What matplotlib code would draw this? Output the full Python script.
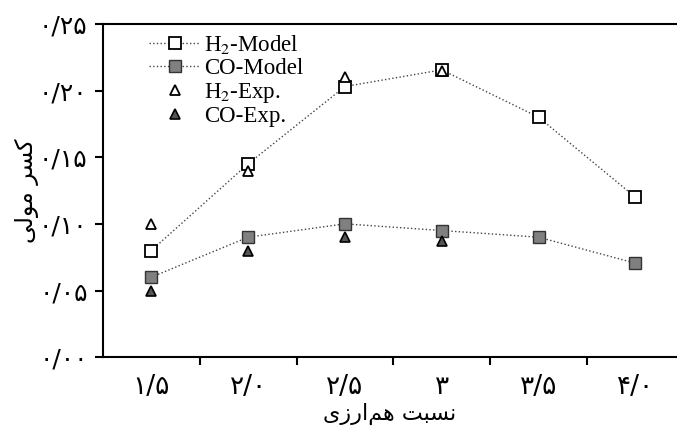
import matplotlib
matplotlib.use('Agg')
import matplotlib.pyplot as plt

plt.rcParams['font.family'] = ['DejaVu Sans']
plt.rcParams['mathtext.fontset'] = 'stix'

# data
ratios = ['۱/۵', '۲/۰', '۲/۵', '۳', '۳/۵', '۴/۰']
h2_model = [0.080, 0.145, 0.203, 0.2155, 0.180, 0.120]
co_model = [0.060, 0.090, 0.100, 0.095, 0.090, 0.0705]
h2_exp = [0.100, 0.140, 0.210, 0.215]
co_exp = [0.050, 0.080, 0.090, 0.087]
yticks = [0.00, 0.05, 0.10, 0.15, 0.20, 0.25]
ytick_labels = ['۰/۰۰', '۰/۰۵', '۰/۱۰', '۰/۱۵', '۰/۲۰', '۰/۲۵']

# persian labels written in presentation forms, visual order
xlabel = 'ﯼﺯﺭﺍﻢﻫ ﺖﺒﺴﻧ'
ylabel = 'ﯽﻟﻮﻣ ﺮﺴﮐ'

x = list(range(len(ratios)))

fig = plt.figure(figsize=(6.77, 4.34), dpi=100)
ax = fig.add_axes([0.152, 0.177, 0.848, 0.768])

ax.plot(x, h2_model, ':', color='#444444', lw=1, marker='s', ms=9,
        mfc='white', mec='black', mew=1.3, label=r'H$_2$-Model')
ax.plot(x, co_model, ':', color='#444444', lw=1, marker='s', ms=9,
        mfc='#808080', mec='#333333', mew=1.0, label='CO-Model')
ax.plot(x[:len(h2_exp)], h2_exp, ls='none', marker='^', ms=7,
        mfc='white', mec='black', mew=1.3, label=r'H$_2$-Exp.')
ax.plot(x[:len(co_exp)], co_exp, ls='none', marker='^', ms=7,
        mfc='#555555', mec='black', mew=1.2, label='CO-Exp.')

ax.set_xlim(-0.5, 5.43)
ax.set_ylim(0, 0.25)
ax.set_xticks(x)
ax.set_xticklabels(ratios, fontsize=19)
ax.set_xticks([i + 0.5 for i in x[:-1]], minor=True)
ax.tick_params(axis='x', which='major', length=0, pad=12)
ax.tick_params(axis='x', which='minor', length=6, width=1.5, direction='out')
ax.set_yticks(yticks)
ax.set_yticklabels(ytick_labels, fontsize=18)
ax.tick_params(axis='y', length=6, width=1.5, direction='out', pad=5)

ax.spines['right'].set_visible(False)
for s in ['left', 'bottom', 'top']:
    ax.spines[s].set_linewidth(1.5)

ax.set_xlabel(xlabel, fontsize=16, labelpad=2)
ax.set_ylabel(ylabel, fontsize=17, labelpad=0)

leg = ax.legend(loc='upper left', bbox_to_anchor=(0.045, 1.035), frameon=False,
                prop={'family': 'Liberation Serif', 'size': 16.5},
                handlelength=2.2, handletextpad=0.2, labelspacing=0.08)

fig.savefig('out.png', dpi=100)
